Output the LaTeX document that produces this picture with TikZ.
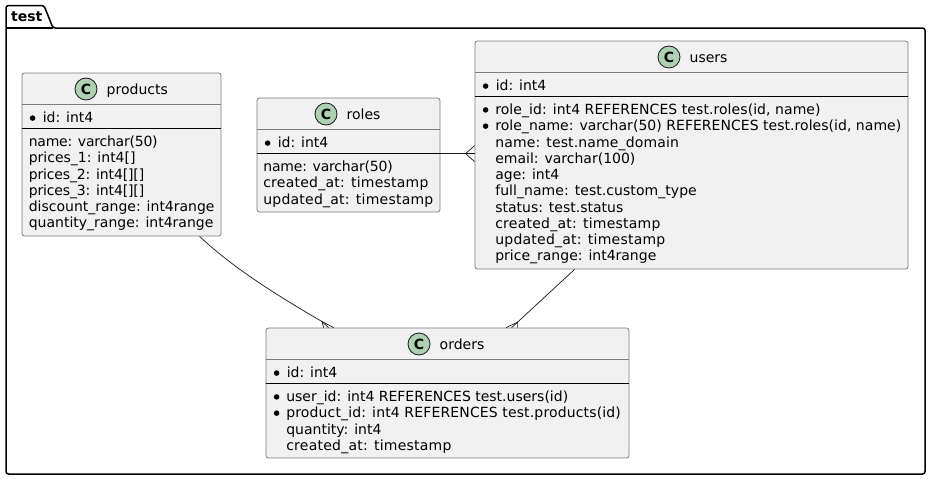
\documentclass[tikz,border=0pt]{standalone}
\usepackage{fontspec}
\setmainfont{DejaVu Sans}
\usetikzlibrary{positioning,calc}
\definecolor{classbg}{HTML}{F1F1F1}
\definecolor{classedge}{HTML}{7C7C7C}
\definecolor{reledge}{HTML}{181818}
\definecolor{iconbg}{HTML}{ADD1B2}
\newcommand{\ls}[2]{{\addfontfeature{LetterSpace=#1}#2}}
\tikzset{
  classbox/.style={draw=classedge, line width=0.8pt, fill=classbg, rounded corners=2.5pt, inner sep=0pt},
  headline/.style={draw=classedge, line width=0.8pt},
  sepline/.style={draw=black, line width=1pt},
  entry/.style={anchor=base west, inner sep=0pt, font=\fontsize{14}{16}\selectfont},
  keydot/.style={circle, fill=black, inner sep=0pt, minimum size=5.5pt},
  icon/.style={circle, draw=reledge, line width=0.8pt, fill=iconbg, inner sep=0pt, minimum size=22pt, font=\fontsize{14}{16}\selectfont\bfseries},
  relline/.style={draw=reledge, line width=0.7pt},
  pkg/.style={draw=black, line width=1.5pt, line join=round}
}
\begin{document}
\begin{tikzpicture}[x=1pt,y=-1pt]
  \useasboundingbox (0,0) rectangle (930,479);
  % package
  \draw[pkg, fill=white, rounded corners=2.5pt] (6,28) -- (6,5.5) -- (44,5.5) -- (53,28) -- (925,28) -- (925,474) -- (6,474) -- cycle;
  \draw[pkg] (6,28) -- (53,28);
  \node[entry, font=\fontsize{14}{16}\selectfont\bfseries] (testlabel) at (11,21) {test};
  % tables
  \node[classbox, minimum width=199pt, minimum height=163pt] (products) at (121.5,154.5) {};
  \node[classbox, minimum width=183pt, minimum height=114pt] (roles) at (348.5,155) {};
  \node[classbox, minimum width=433pt, minimum height=228pt] (users) at (691.5,155) {};
  \node[classbox, minimum width=363pt, minimum height=130pt] (orders) at (447.5,393) {};
  \foreach \name/\x/\y in {products/86/89,roles/326/114,users/669/57,orders/419/344}{
    \draw[headline] ([yshift=-32pt]\name.north west) -- ([yshift=-32pt]\name.north east);
    \draw[sepline] ([yshift=-56pt]\name.north west) -- ([yshift=-56pt]\name.north east);
    \node[icon] (\name icon) at (\x,\y) {C};
    \node[entry] (\name title) at ([xshift=20.5pt,yshift=-5pt]\name icon.center) {\name};
    \node[keydot] (\name dot) at ([xshift=11pt,yshift=-45.5pt]\name.north west) {};
    \node[entry] (\name id) at ([xshift=21pt,yshift=-50pt]\name.north west) {id: int4};
  }
  % columns
  \foreach \txt [count=\i] in {\ls{-1.6}{name: varchar(50)},prices\_1: int4[],\ls{-1}{prices\_2: int4[][]},\ls{-1}{prices\_3: int4[][]},discount\_range: int4range,quantity\_range: int4range}
    \node[entry] (products row \i) at ([xshift=7pt,yshift={-74pt-(\i-1)*16.25pt}]products.north west) {\txt};
  \foreach \txt [count=\i] in {\ls{-1.3}{name: varchar(50)},\ls{1.7}{created\_at: timestamp},\ls{1.7}{updated\_at: timestamp}}
    \node[entry] (roles row \i) at ([xshift=6.5pt,yshift={-74pt-(\i-1)*16.25pt}]roles.north west) {\txt};
  \foreach \txt [count=\i] in {\ls{.5}{role\_id: int4 REFERENCES test.roles(id{,} name)},\ls{.26}{role\_name: varchar(50) REFERENCES test.roles(id{,} name)},\ls{1}{name: test.name\_domain},email: varchar(100),age: int4,\ls{.4}{full\_name: test.custom\_type},status: test.status,\ls{1.7}{created\_at: timestamp},\ls{1.7}{updated\_at: timestamp},price\_range: int4range}
    \node[entry] (users row \i) at ([xshift=20.5pt,yshift={-74pt-(\i-1)*16.25pt}]users.north west) {\txt};
  \foreach \txt [count=\i] in {user\_id: int4 REFERENCES test.users(id),\ls{1.05}{product\_id: int4 REFERENCES test.products(id)},quantity: int4,\ls{1.7}{created\_at: timestamp}}
    \node[entry] (orders row \i) at ([xshift=20.5pt,yshift={-74pt-(\i-1)*16.25pt}]orders.north west) {\txt};
  \foreach \name/\i in {users/1,users/2,orders/1,orders/2}
    \node[keydot] (\name key \i) at ([xshift=11pt,yshift={-69.3pt-(\i-1)*16.25pt}]\name.north west) {};
  % relations
  \coordinate (prodout) at ([xshift=178pt]products.south west);
  \coordinate (prodin) at ([xshift=63pt]orders.north west);
  \coordinate (prodapex) at ([xshift=-6.5pt,yshift=6pt]prodin);
  \coordinate (usersout) at ([xshift=100pt]users.south west);
  \coordinate (usersin) at ([xshift=246pt]orders.north west);
  \coordinate (usersapex) at ([xshift=6pt,yshift=5.5pt]usersin);
  \coordinate (rolesout) at ([yshift=-56pt]roles.north east);
  \coordinate (rolesin) at (users.west |- rolesout);
  \coordinate (rolesapex) at ([xshift=-9pt]rolesin);
  \draw[relline] (prodout) .. controls (235,270) and (285,300) .. (prodapex);
  \draw[relline] ([xshift=-5pt]prodin) -- (prodapex) -- ([xshift=5pt]prodin);
  \draw[relline] (prodapex) -- (prodin);
  \draw[relline] (usersout) -- (usersapex);
  \draw[relline] ([xshift=-5.5pt]usersin) -- (usersapex) -- ([xshift=6pt]usersin);
  \draw[relline] (usersapex) -- (usersin);
  \draw[relline] (rolesout) -- (rolesin);
  \draw[relline] ([yshift=8pt]rolesin) -- (rolesapex) -- ([yshift=-8pt]rolesin);
\end{tikzpicture}
\end{document}
